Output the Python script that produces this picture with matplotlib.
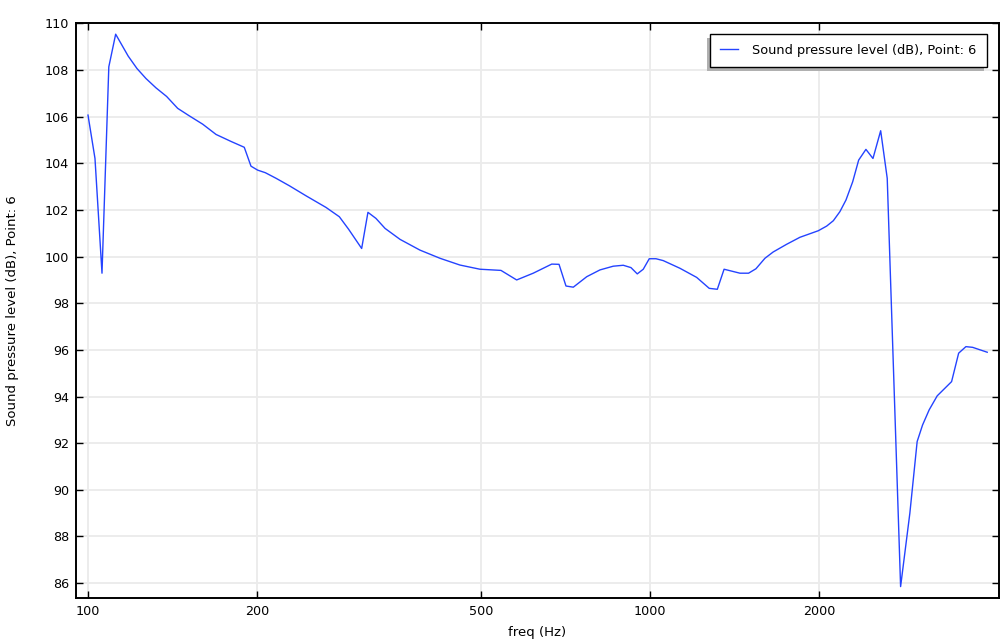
import matplotlib
matplotlib.use("Agg")
import matplotlib.pyplot as plt
from matplotlib.patches import Rectangle

freq_hz = [100.0, 102.9, 105.9, 108.9, 112.0, 117.9, 122.2, 126.8, 132.1, 138.0,
           144.4, 151.4, 160.0, 169.0, 179.7, 189.7, 195.0, 200.4, 206.8, 216.1,
           228.2, 244.3, 265.2, 280.1, 291.0, 306.9, 314.9, 325.4, 337.8, 359.2,
           389.7, 423.0, 459.0, 498.3, 543.1, 579.2, 619.9, 668.7, 689.0, 708.9,
           730.5, 771.9, 814.7, 860.4, 896.5, 925.2, 949.4, 973.0, 997.2, 1025.0,
           1056.0, 1131.0, 1211.0, 1275.0, 1318.0, 1355.0, 1446.0, 1498.0, 1544.0, 1602.0,
           1657.0, 1751.0, 1849.0, 1993.0, 2063.0, 2120.0, 2178.0, 2233.0, 2295.0, 2352.0,
           2423.0, 2494.0, 2574.0, 2644.0, 2793.0, 2901.0, 2989.0, 3056.0, 3140.0, 3245.0,
           3442.0, 3543.0, 3650.0, 3752.0, 3983.0]
spl_db = [106.07, 104.21, 99.29, 108.14, 109.54, 108.60, 108.07, 107.64, 107.24, 106.87,
          106.36, 106.04, 105.68, 105.24, 104.94, 104.69, 103.88, 103.71, 103.60, 103.36,
          103.04, 102.61, 102.11, 101.71, 101.17, 100.35, 101.90, 101.64, 101.21, 100.74,
          100.28, 99.93, 99.64, 99.46, 99.41, 99.00, 99.29, 99.68, 99.67, 98.74,
          98.69, 99.14, 99.43, 99.59, 99.63, 99.53, 99.26, 99.46, 99.91, 99.91,
          99.83, 99.50, 99.11, 98.64, 98.60, 99.46, 99.29, 99.29, 99.48, 99.93,
          100.20, 100.53, 100.83, 101.11, 101.31, 101.54, 101.93, 102.43, 103.21, 104.14,
          104.60, 104.21, 105.40, 103.36, 85.85, 89.00, 92.07, 92.78, 93.43, 94.03,
          94.64, 95.86, 96.14, 96.11, 95.90]

x_ticks = [100, 200, 500, 1000, 2000]
x_tick_labels = ["100", "200", "500", "1000", "2000"]
y_ticks = list(range(86, 111, 2))

series_label = "Sound pressure level (dB), Point: 6"
x_label = "freq (Hz)"
y_label = "Sound pressure level (dB), Point: 6"

plt.rcParams['font.family'] = ['DejaVu Sans']

fig = plt.figure(figsize=(10.05, 6.41), dpi=100)
ax = fig.add_axes([76/1005, 43/641, (999-76)/1005, (598-23)/641])

ax.plot(freq_hz, spl_db, color='#2443ff', lw=1.0, label=series_label, zorder=3)

ax.set_xscale('log')
ax.set_xlim(95.2, 4180)
ax.set_ylim(85.36, 110.02)
ax.set_xticks(x_ticks)
ax.set_xticklabels(x_tick_labels)
ax.xaxis.set_minor_locator(matplotlib.ticker.NullLocator())
ax.set_yticks(y_ticks)

ax.grid(True, which='major', color='#ebebeb', lw=1.3, zorder=0)
ax.set_axisbelow(True)
for s in ax.spines.values():
    s.set_linewidth(1.4)
    s.set_color('black')
ax.tick_params(axis='both', which='major', direction='in', length=5, width=1.0,
               top=True, right=True, labelsize=9.2, colors='black', pad=5)

ax.set_xlabel(x_label, fontsize=9.5, labelpad=6)
ax.set_ylabel(y_label, fontsize=9.5, labelpad=18.5)

leg = ax.legend(loc='upper right', bbox_to_anchor=(0.9867, 0.981), borderaxespad=0,
                fontsize=9.3, frameon=True, fancybox=False, edgecolor='black',
                framealpha=1.0, borderpad=0.78, handlelength=1.4, handletextpad=1.1)
leg.get_frame().set_linewidth(1.0)
leg.set_zorder(6)

fig.canvas.draw()
bb = leg.get_window_extent()
inv = ax.transAxes.inverted()
(x0, y0) = inv.transform((bb.x0 - 3, bb.y0 - 4))
(x1, y1) = inv.transform((bb.x1 - 3, bb.y1 - 4))
ax.add_patch(Rectangle((x0, y0), x1 - x0, y1 - y0, transform=ax.transAxes,
                       facecolor='#b0b0b0', edgecolor='none', zorder=5, clip_on=False))

fig.savefig('out.png', dpi=100)
